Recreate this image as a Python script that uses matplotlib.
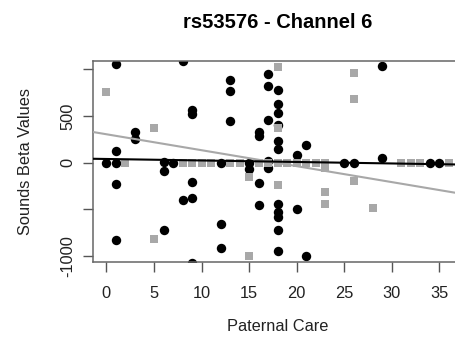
import matplotlib
matplotlib.use('Agg')
import matplotlib.pyplot as plt

plt.rcParams['font.family'] = ['Liberation Sans', 'DejaVu Sans']

# black circles (group 1)
black_x = [0, 1, 1, 1, 1, 1, 3, 3, 6, 6, 6, 7, 8, 8, 9, 9, 9, 9, 9,
           12, 12, 12, 13, 13, 13, 15, 15, 16, 16, 16, 16,
           17, 17, 17, 17, 17, 18, 18, 18, 18, 18, 18, 18, 18, 18, 18, 18,
           20, 20, 21, 21, 25, 26, 29, 29, 34, 35]
black_y = [0, 0, 129, -232, -828, 1060, 333, 251, 10, -84, -721, 0, -400, 1090,
           565, 522, -203, -382, -1075, 0, -660, -911, 890, 768, 447, -5, -71,
           333, 286, -214, -457, 950, 822, 458, 21, -62,
           779, 629, 529, 404, 236, 143, -443, -530, -580, -721, -943,
           80, -495, 186, -1004, 0, 0, 52, 1040, 0, 0]

# grey squares (group 2)
grey_x = [0, 2, 5, 5, 8, 9, 10, 11, 13, 14, 15, 15, 16, 17, 18, 18, 18, 18,
          19, 20, 21, 22, 23, 23, 23, 23, 26, 26, 26, 28, 31, 32, 33, 36]
grey_y = [754, 0, 372, -818, 0, 0, 0, 0, 0, 0, -150, -1003, 0, 0, 1025, 370, 0, -235,
          0, 0, 0, 0, 0, -60, -311, -443, 958, 683, -200, -489, 0, 0, 0, 0]

# fitted lines (intercept, slope)
black_fit = (40, -1.6)
grey_fit = (305, -17.1)

xticks = [0, 5, 10, 15, 20, 25, 30, 35]
yticks = [-1000, -500, 0, 500, 1000]
ylabels = ['-1000', '', '0', '500', '']

grey = '#a8a8a8'

fig = plt.figure(figsize=(4.55, 3.45), dpi=100)
ax = fig.add_axes([92.7 / 455, 83 / 345, 370 / 455, 201 / 345])

ax.scatter(black_x, black_y, s=46, c='black', marker='o', linewidths=0, zorder=2)
ax.scatter(grey_x, grey_y, s=34, c=grey, marker='s', linewidths=0, zorder=3)

ax.axline((0, grey_fit[0]), slope=grey_fit[1], color=grey, lw=1.5, zorder=4)
ax.axline((0, black_fit[0]), slope=black_fit[1], color='black', lw=1.5, zorder=5)

ax.set_xlim(-1.44, 37.44)
ax.set_ylim(-1064, 1090)

ax.set_xticks(xticks)
ax.set_yticks(yticks)
ax.set_yticklabels(ylabels, rotation=90, va='center')

for s in ax.spines.values():
    s.set_color('#666666')
    s.set_linewidth(1.1)

ax.tick_params(axis='both', direction='out', length=7.5, width=1, color='#555555',
               labelsize=11.8, labelcolor='#222222')
ax.tick_params(axis='x', pad=10)
ax.tick_params(axis='y', pad=5)

ax.set_xlabel('Paternal Care', fontsize=11.8, labelpad=13, color='#222222')
ax.set_ylabel('Sounds Beta Values', fontsize=11.8, labelpad=20, color='#222222')
ax.set_title('rs53576 - Channel 6', fontsize=14.5, fontweight='bold', pad=24)

fig.savefig('out.png', dpi=100)
